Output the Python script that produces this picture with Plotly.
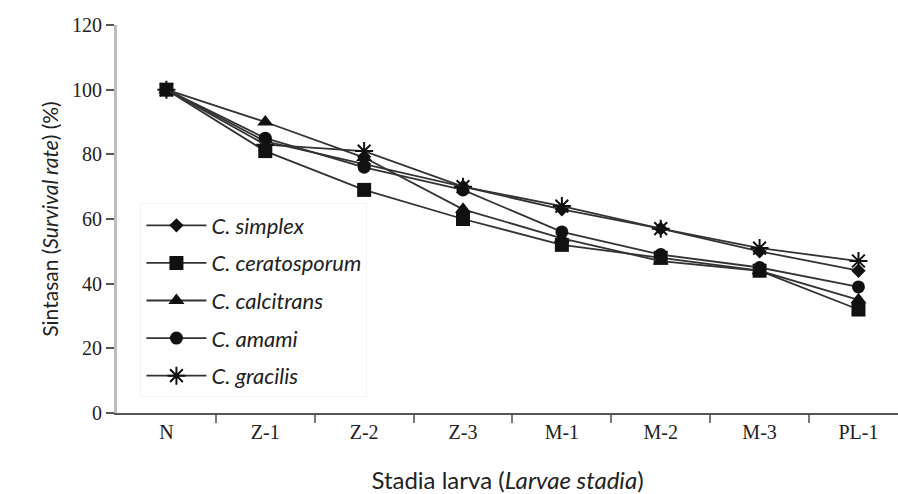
import plotly.graph_objects as go

stages = ["N", "Z-1", "Z-2", "Z-3", "M-1", "M-2", "M-3", "PL-1"]
series_names = ["C. simplex", "C. ceratosporum", "C. calcitrans", "C. amami", "C. gracilis"]
simplex = [100, 84, 77, 70, 63, 57, 50, 44]
ceratosporum = [100, 81, 69, 60, 52, 48, 44, 32]
calcitrans = [100, 90, 79, 63, 54, 47, 44, 35]
amami = [100, 85, 76, 69, 56, 49, 45, 39]
gracilis = [100, 83, 81, 70, 64, 57, 51, 47]
y_ticks = [0, 20, 40, 60, 80, 100, 120]

all_values = [simplex, ceratosporum, calcitrans, amami, gracilis]
symbols = ["diamond", "square", "triangle-up", "circle", "asterisk-open"]
sizes = [11, 14, 14, 13, 15]

x_pos = list(range(len(stages)))
boundaries = [i + 0.5 for i in range(len(stages) - 1)]

fig = go.Figure()
for name, vals, sym, sz in zip(series_names, all_values, symbols, sizes):
    fig.add_trace(go.Scatter(
        x=x_pos, y=vals, mode="lines+markers", name=f"<i>{name}</i>",
        legendgroup=name,
        line=dict(color="#333333", width=1.8),
        marker=dict(symbol=sym, size=sz, color="#111111",
                    line=dict(color="#111111", width=2 if sym.startswith("asterisk") else 0)),
    ))

fig.update_layout(
    width=898, height=494,
    margin=dict(l=117, r=0, t=25, b=81),
    paper_bgcolor="white", plot_bgcolor="white",
    showlegend=True,
    legend=dict(x=0.03, y=0.54, xanchor="left", yanchor="top",
                bgcolor="white", bordercolor="#f4f4f4", borderwidth=1,
                tracegroupgap=6, itemwidth=60,
                font=dict(family="Lato", size=22, color="#222")),
    xaxis=dict(range=[-0.5, 7.4], tickvals=x_pos, ticktext=stages,
               showgrid=False, zeroline=False, showline=True,
               linecolor="#555", linewidth=2, ticks="",
               tickfont=dict(family="Liberation Serif", size=20, color="#222"),
               minor=dict(tickvals=boundaries, ticks="outside", ticklen=8,
                          tickcolor="#777", tickwidth=2, showgrid=False),
               title=dict(text="Stadia larva (<i>Larvae stadia</i>)", standoff=31,
                          font=dict(family="Lato", size=24, color="#222"))),
    yaxis=dict(range=[0, 120], tickvals=y_ticks, showgrid=False, zeroline=False,
               showline=True, linecolor="#bdbdbd", linewidth=3,
               ticks="outside", ticklen=8, tickcolor="#555", tickwidth=2,
               tickfont=dict(family="Liberation Serif", size=20, color="#222"),
               title=dict(text="Sintasan (<i>Survival rate</i>) (%)", standoff=8,
                          font=dict(family="Lato", size=21, color="#222"))),
)

fig.write_html("out.html")
